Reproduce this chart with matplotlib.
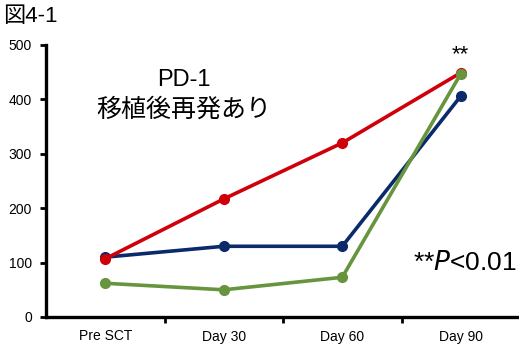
import matplotlib.pyplot as plt
import numpy as np

plt.rcParams['font.family'] = ['Liberation Sans', 'Noto Sans CJK JP', 'DejaVu Sans']

days = ["Pre SCT", "Day 30", "Day 60", "Day 90"]
red_vals = [107, 217, 320, 449]
navy_vals = [110, 130, 130, 406]
green_vals = [62, 50, 73, 447]
y_ticks = [0, 100, 200, 300, 400, 500]

fig = plt.figure(figsize=(5.19, 3.44), dpi=100)
ax = fig.add_axes([46 / 519, 27 / 344, 474 / 519, 272 / 344])

x = np.arange(len(days))
ax.plot(x, navy_vals, color="#0B2A6B", lw=2.6, marker="o", ms=7, zorder=3)
ax.plot(x, red_vals, color="#D0000A", lw=2.6, marker="o", ms=7, zorder=4)
ax.plot(x, green_vals, color="#66953D", lw=2.6, marker="o", ms=7, zorder=5)

ax.set_xlim(-0.5, len(days) - 0.5)
ax.set_ylim(0, 500)
ax.set_yticks(y_ticks)
ax.set_xticks(x)
ax.set_xticklabels(days)
ax.set_xticks(np.arange(0.5, len(days) - 0.5, 1), minor=True)
ax.tick_params(axis="x", which="major", length=0, pad=9, labelsize=10)
ax.tick_params(axis="x", which="minor", length=4, width=2, direction="out")
ax.tick_params(axis="y", length=4, width=2, labelsize=10, pad=6)

for side in ["top", "right"]:
    ax.spines[side].set_visible(False)
for side in ["left", "bottom"]:
    ax.spines[side].set_linewidth(2.4)

# group label in the upper left of the plot
ax.text(0.66, 436, "PD-1", ha="center", va="center", fontsize=17)
ax.text(0.66, 381, "移植後再発あり", ha="center", va="center", fontsize=18)
ax.text(3, 482, "**", ha="center", va="center", fontsize=16)
ax.text(3.47, 100, "**$\\it{P}$<0.01", ha="right", va="center", fontsize=19)

fig.text(3 / 519, 1 - 17 / 344, "図4-1", ha="left", va="center", fontsize=16)

fig.savefig("out.png", dpi=100)
